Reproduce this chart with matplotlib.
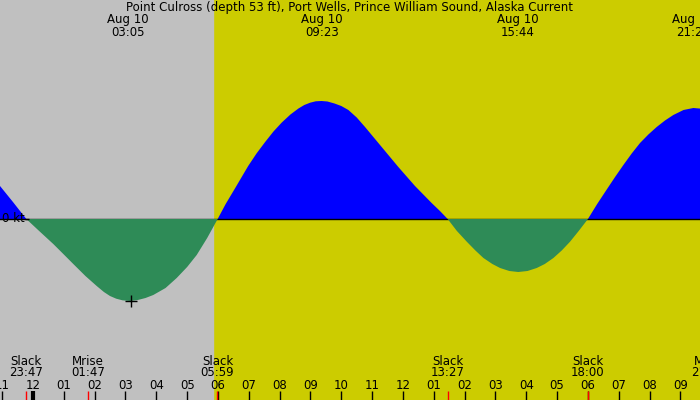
import matplotlib
matplotlib.use('Agg')
import matplotlib.pyplot as plt
import matplotlib.transforms as mtransforms

# Current speed (hours from midnight Aug 10, knots)
t_hr = [-1.5, -1.07, -0.65, -0.217,
        0.2, 0.658, 1.0, 1.307, 1.7, 2.066, 2.3, 2.497, 2.7, 2.9, 3.146,
        3.4, 3.65, 3.902, 4.3, 4.661, 5.0, 5.31, 5.65, 5.99,
        6.25, 6.55, 6.98, 7.25, 7.53, 7.8, 8.07, 8.35, 8.61, 8.8, 8.99,
        9.17, 9.36, 9.55, 9.78, 10.0, 10.23, 10.5, 10.77, 11.04, 11.31,
        11.58, 11.85, 12.12, 12.39, 12.66, 12.93, 13.2, 13.45,
        13.75, 14.07, 14.35, 14.61, 14.9, 15.15, 15.45, 15.74, 16.04, 16.34,
        16.6, 16.88, 17.15, 17.42, 17.7, 18.0,
        18.3, 18.61, 18.88, 19.15, 19.42, 19.69, 19.96, 20.23, 20.5, 20.77,
        21.1, 21.42, 21.8]
speed_kt = [0.46, 0.33, 0.17, 0.0,
            -0.12, -0.25, -0.355, -0.45, -0.57, -0.67, -0.73, -0.77, -0.797,
            -0.813, -0.82,
            -0.81, -0.79, -0.76, -0.69, -0.59, -0.48, -0.36, -0.19, 0.0,
            0.15, 0.305, 0.53, 0.655, 0.77, 0.875, 0.965, 1.045, 1.105, 1.14,
            1.163,
            1.177, 1.18, 1.175, 1.155, 1.13, 1.09, 1.015, 0.92, 0.82, 0.72,
            0.62, 0.52, 0.425, 0.33, 0.245, 0.16, 0.08, 0.0,
            -0.12, -0.227, -0.315, -0.39, -0.45, -0.49, -0.52, -0.53, -0.52,
            -0.49,
            -0.45, -0.39, -0.315, -0.227, -0.12, 0.0,
            0.15, 0.295, 0.42, 0.54, 0.655, 0.76, 0.845, 0.92, 0.985, 1.04,
            1.09, 1.11, 1.10]

# max current events (top labels)
max_t = [3.083, 9.383, 15.733, 21.417]
max_labels = ['03:05', '09:23', '15:44', '21:25']

# slack / moon events (bottom labels)
ev_t = [-0.217, 1.783, 5.983, 13.45, 18.0, 21.9]
ev_name = ['Slack', 'Mrise', 'Slack', 'Slack', 'Slack', 'Mset']
ev_time = ['23:47', '01:47', '05:59', '13:27', '18:00', '21:54']

hour_ticks = list(range(-1, 22))
hour_labels = ['11', '12', '01', '02', '03', '04', '05', '06', '07', '08',
               '09', '10', '11', '12', '01', '02', '03', '04', '05', '06',
               '07', '08', '09']

sunrise = 5.84
marker_t, marker_v = 3.18, -0.82

title = 'Point Culross (depth 53 ft), Port Wells, Prince William Sound, Alaska Current'

x0, x1 = -1.0704, 21.635
px_per_hr = 30.83

# Figure setup
fig = plt.figure(figsize=(7, 4), dpi=100, facecolor='#cccc00')
ax = fig.add_axes([0, 0, 1, 1])
ax.set_axis_off()
ax.set_xlim(x0, x1)
ax.set_ylim(-1.81, 2.19)

# day / night background
ax.axvspan(-2, 30, color='#cccc00', zorder=0)
ax.axvspan(-2, sunrise, color='#c0c0c0', zorder=0)

# Plot data
ax.fill_between(t_hr, speed_kt, 0, where=[v >= 0 for v in speed_kt],
                interpolate=True, color='#0000ff', lw=0, zorder=1)
ax.axhline(0, color='black', lw=1, zorder=2)
ax.fill_between(t_hr, speed_kt, 0, where=[v <= 0 for v in speed_kt],
                interpolate=True, color='#2e8b57', lw=0, zorder=3)
ax.plot(marker_t, marker_v, marker='+', color='black', ms=9, mew=1, zorder=4)

fs = 8.5
tr = mtransforms.blended_transform_factory(ax.transData, ax.transAxes)

ax.text(0.5, 0.98, title, transform=ax.transAxes, ha='center', va='center',
        fontsize=fs, zorder=5)
for t, lab in zip(max_t, max_labels):
    ax.text(t, 0.951, 'Aug 10', transform=tr, ha='center', va='center', fontsize=fs)
    ax.text(t, 0.92, lab, transform=tr, ha='center', va='center', fontsize=fs)

for t, name, lab in zip(ev_t, ev_name, ev_time):
    ax.text(t, 0.096, name, transform=tr, ha='center', va='center', fontsize=fs)
    ax.text(t, 0.0675, lab, transform=tr, ha='center', va='center', fontsize=fs)

for t, lab in zip(hour_ticks, hour_labels):
    ax.text(t, 0.037, lab, transform=tr, ha='center', va='center', fontsize=fs)

# hour ticks
ax.vlines(hour_ticks, 0, 0.022, transform=tr, color='black', lw=1, zorder=5)
ax.vlines([0], 0, 0.022, transform=tr, color='black', lw=3, zorder=5)
ax.vlines(ev_t, 0, 0.022, transform=tr, color='red', lw=1, zorder=6)

# zero label
ax.text(x0 + 2 / px_per_hr, 0, '0 kt', ha='left', va='center', fontsize=fs, zorder=5)
ax.hlines(0, x0 + 25 / px_per_hr, x0 + 29 / px_per_hr, color='black', lw=1, zorder=5)

fig.savefig('out.png', dpi=100, facecolor=fig.get_facecolor())
